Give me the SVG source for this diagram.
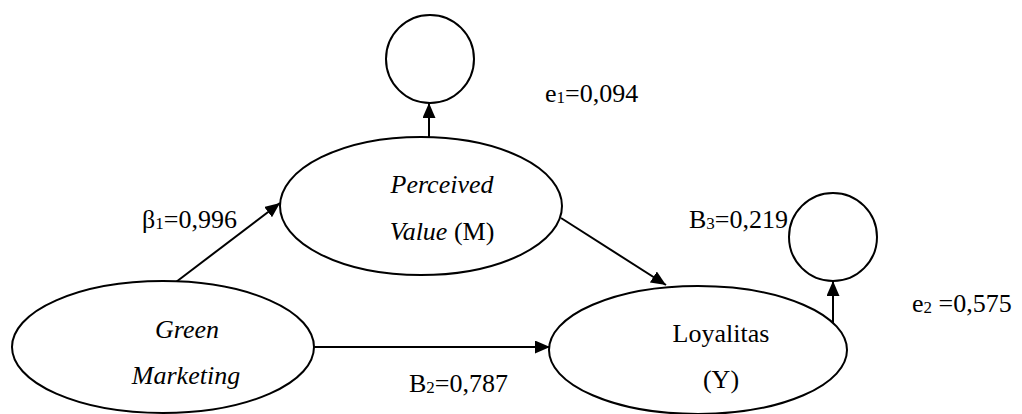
<svg xmlns="http://www.w3.org/2000/svg" width="1022" height="414" viewBox="0 0 1022 414">
<style>
.n{fill:#fff;stroke:#000;stroke-width:2}
.c{fill:none;stroke:#000;stroke-width:2}
text{font-family:"Liberation Serif","Times New Roman",serif;font-size:26px;fill:#000}
.i{font-style:italic}
.s{font-size:17px}
</style>
<defs>
<marker id="a" viewBox="0 0 15 13" refX="15" refY="6.5" markerWidth="15" markerHeight="13" markerUnits="userSpaceOnUse" orient="auto">
<path d="M0,0 L15,6.5 L0,13 Z" fill="#000"/>
</marker>
</defs>
<g id="connectors">
<line class="c" x1="176" y1="282" x2="280" y2="203" marker-end="url(#a)"/>
<line class="c" x1="314" y1="347" x2="550" y2="347" marker-end="url(#a)"/>
<line class="c" x1="561" y1="218" x2="666" y2="285" marker-end="url(#a)"/>
<line class="c" x1="429" y1="138" x2="429" y2="103" marker-end="url(#a)"/>
<line class="c" x1="833" y1="325" x2="833" y2="281" marker-end="url(#a)"/>
</g>
<g id="e1-circle"><circle class="n" cx="430" cy="59" r="44"/></g>
<g id="e2-circle"><circle class="n" cx="833" cy="237" r="44"/></g>
<g id="perceived-value">
<ellipse class="n" cx="421" cy="206" rx="141" ry="69"/>
<text x="442" y="193" text-anchor="middle" class="i">Perceived</text>
<text x="442" y="240" text-anchor="middle"><tspan class="i">Value</tspan> (M)</text>
</g>
<g id="green-marketing">
<ellipse class="n" cx="163" cy="347" rx="151" ry="66"/>
<text x="187" y="338" text-anchor="middle" class="i">Green</text>
<text x="186" y="384" text-anchor="middle" class="i">Marketing</text>
</g>
<g id="loyalitas">
<ellipse class="n" cx="698" cy="350" rx="149" ry="64"/>
<text x="721" y="342" text-anchor="middle">Loyalitas</text>
<text x="721" y="388" text-anchor="middle">(Y)</text>
</g>
<g id="labels">
<text x="545" y="102">e<tspan class="s" dy="1">1</tspan><tspan dy="-1">=0,094</tspan></text>
<text x="142" y="228">β<tspan class="s" dy="1">1</tspan><tspan dy="-1">=0,996</tspan></text>
<text x="689" y="228">B<tspan class="s" dy="1">3</tspan><tspan dy="-1">=0,219</tspan></text>
<text x="912" y="312">e<tspan class="s" dy="1">2</tspan><tspan dy="-1"> =0,575</tspan></text>
<text x="409" y="392">B<tspan class="s" dy="1">2</tspan><tspan dy="-1">=0,787</tspan></text>
</g>
</svg>
